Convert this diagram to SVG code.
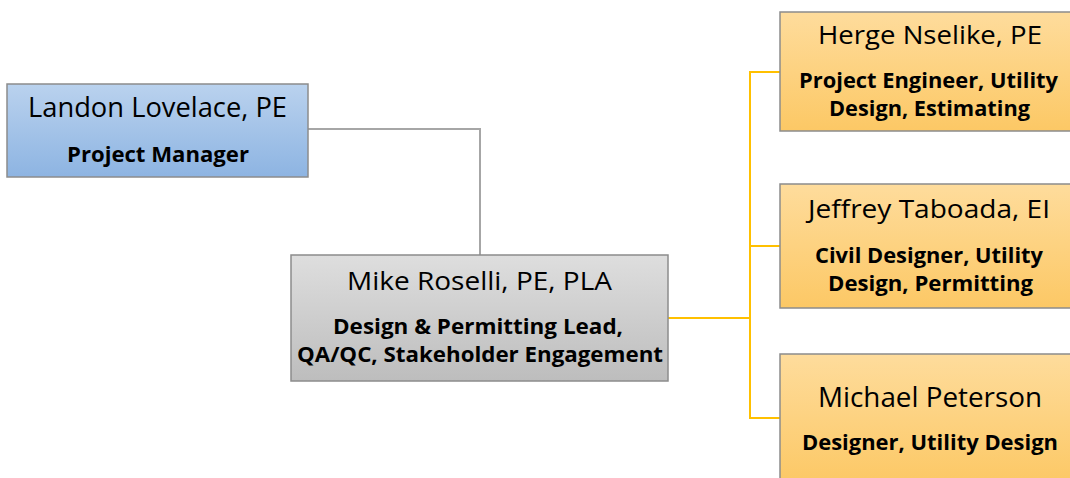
<svg xmlns="http://www.w3.org/2000/svg" width="1070" height="478" viewBox="0 0 1070 478">
<defs>
<linearGradient id="gBlue" x1="0" y1="0" x2="0" y2="1"><stop offset="0" stop-color="#bad2ee"/><stop offset="1" stop-color="#8db4e2"/></linearGradient>
<linearGradient id="gGray" x1="0" y1="0" x2="0" y2="1"><stop offset="0" stop-color="#dedede"/><stop offset="1" stop-color="#bdbdbd"/></linearGradient>
<linearGradient id="gGold" x1="0" y1="0" x2="0" y2="1"><stop offset="0" stop-color="#fedc9c"/><stop offset="1" stop-color="#fcc865"/></linearGradient>
<style>
.box{stroke:#8c8c8c;stroke-width:1.5}
.name{font-family:"Open Sans","Liberation Sans",sans-serif;font-size:25px;fill:#000;text-anchor:middle}
.role{font-family:"Open Sans","Liberation Sans",sans-serif;font-size:20.5px;font-weight:bold;fill:#000;text-anchor:middle}
.big{font-size:28px}
.bigr{font-size:21.5px}
.gray{fill:none;stroke:#a6a6a6;stroke-width:2}
.gold{fill:none;stroke:#ffc000;stroke-width:2}
</style>
</defs>
<g id="connectors">
<polyline class="gray" points="308,129 480,129 480,255"/>
<polyline class="gold" points="668,318 750,318"/>
<polyline class="gold" points="780,72 750,72 750,418 780,418"/>
<polyline class="gold" points="750,246 780,246"/>
</g>
<g id="landon">
<rect class="box" x="7" y="84" width="301" height="93" fill="url(#gBlue)"/>
<text class="name big" x="157.5" y="116.5" textLength="259" lengthAdjust="spacingAndGlyphs">Landon Lovelace, PE</text>
<text class="role bigr" x="158" y="161.5" textLength="182" lengthAdjust="spacingAndGlyphs">Project Manager</text>
</g>
<g id="mike">
<rect class="box" x="291" y="255" width="377" height="126" fill="url(#gGray)"/>
<text class="name" x="479.5" y="290" textLength="265" lengthAdjust="spacingAndGlyphs">Mike Roselli, PE, PLA</text>
<text class="role" x="478" y="334" textLength="290" lengthAdjust="spacingAndGlyphs">Design &amp; Permitting Lead,</text>
<text class="role" x="480" y="362" textLength="366" lengthAdjust="spacingAndGlyphs">QA/QC, Stakeholder Engagement</text>
</g>
<g id="herge">
<rect class="box" x="780" y="12" width="300" height="119" fill="url(#gGold)"/>
<text class="name" x="930" y="43.5" textLength="224" lengthAdjust="spacingAndGlyphs">Herge Nselike, PE</text>
<text class="role" x="928.5" y="88" textLength="259" lengthAdjust="spacingAndGlyphs">Project Engineer, Utility</text>
<text class="role" x="929.5" y="115.5" textLength="201" lengthAdjust="spacingAndGlyphs">Design, Estimating</text>
</g>
<g id="jeffrey">
<rect class="box" x="780" y="184" width="300" height="124" fill="url(#gGold)"/>
<text class="name" x="929" y="218" textLength="242" lengthAdjust="spacingAndGlyphs">Jeffrey Taboada, EI</text>
<text class="role" x="929" y="263" textLength="228" lengthAdjust="spacingAndGlyphs">Civil Designer, Utility</text>
<text class="role" x="930.5" y="291" textLength="205" lengthAdjust="spacingAndGlyphs">Design, Permitting</text>
</g>
<g id="michael">
<rect class="box" x="780" y="354" width="300" height="130" fill="url(#gGold)"/>
<text class="name big" x="930" y="406.5" textLength="224" lengthAdjust="spacingAndGlyphs">Michael Peterson</text>
<text class="role bigr" x="930" y="450" textLength="256" lengthAdjust="spacingAndGlyphs">Designer, Utility Design</text>
</g>
</svg>
